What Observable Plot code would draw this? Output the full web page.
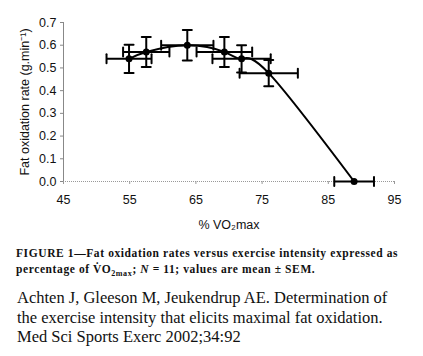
<!DOCTYPE html>
<html>
<head>
<meta charset="utf-8">
<script src="https://cdn.jsdelivr.net/npm/d3@7"></script>
<script src="https://cdn.jsdelivr.net/npm/@observablehq/plot@0.6"></script>
<style>
  html, body { margin: 0; padding: 0; background: #fff; }
  #wrap { width: 423px; height: 356px; overflow: hidden; position: relative; }
  .cap { font-family: "Liberation Serif", "Times New Roman", serif; font-weight: bold; font-size: 11.5px; letter-spacing: 0.6px; line-height: 15.5px; color: #111; margin: 6px 0 0 16px; white-space: nowrap; }
  .ref { font-family: "Liberation Serif", "Times New Roman", serif; font-size: 16.5px; line-height: 19.5px; color: #111; margin: 11px 0 0 17px; white-space: nowrap; }
  sub { font-size: 0.7em; line-height: 0; }
</style>
</head>
<body>
<div id="wrap"></div>
<script>
// Data: % VO2max (x) and fat oxidation rate g/min (y), mean ± SEM
const intensity = [54.9, 57.5, 63.7, 69.3, 71.9, 76.0, 88.9];
const intensitySEM = [3.4, 3.5, 3.95, 4.2, 4.4, 4.4, 3.0];
const fatOx = [0.54, 0.57, 0.60, 0.57, 0.54, 0.477, 0.0];
const fatOxSEM = [0.062, 0.066, 0.067, 0.066, 0.06, 0.058, 0.0];
const xTicks = [45, 55, 65, 75, 85, 95];
const yTicks = [0.0, 0.1, 0.2, 0.3, 0.4, 0.5, 0.6, 0.7];

const data = intensity.map((x, i) => ({x, ex: intensitySEM[i], y: fatOx[i], ey: fatOxSEM[i]}));
const withYErr = data.filter(d => d.ey > 0);

const capShape = {
  draw(context, l) { context.moveTo(0, 0); context.lineTo(0, -l); }
};

const chart = Plot.plot({
  width: 423,
  height: 240,
  marginLeft: 63,
  marginRight: 29,
  marginTop: 22,
  marginBottom: 59,
  style: {fontFamily: "'Liberation Sans', Arial, sans-serif", fontSize: "12.5px", color: "#111", background: "#fff"},
  x: {type: "linear", domain: [45, 95]},
  y: {type: "linear", domain: [0, 0.7]},
  marks: [
    Plot.axisX({ticks: xTicks, tickSize: 3, tickPadding: 11, stroke: "#999", fill: "#111", label: "% VO₂max", labelAnchor: "center", labelArrow: "none", labelOffset: 47}),
    Plot.axisY({ticks: yTicks, tickFormat: ".1f", tickSize: 3, tickPadding: 4, stroke: "#888", fill: "#111", label: "Fat oxidation rate (g.min⁻¹)", labelAnchor: "center", labelArrow: "none", labelOffset: 43}),
    Plot.ruleX([45], {y1: 0, y2: 0.7, stroke: "#888", strokeWidth: 1}),
    Plot.ruleY([0], {x1: 45, x2: 95, stroke: "#999", strokeWidth: 1, strokeDasharray: "1,1"}),
    Plot.line(data, {x: "x", y: "y", curve: "natural", stroke: "#000", strokeWidth: 2}),
    // horizontal error bars
    Plot.link(data, {x1: d => d.x - d.ex, x2: d => d.x + d.ex, y1: "y", y2: "y", stroke: "#000", strokeWidth: 2}),
    Plot.vector(data, {x: d => d.x - d.ex, y: "y", length: 9, rotate: 0, anchor: "middle", shape: capShape, stroke: "#000", strokeWidth: 2}),
    Plot.vector(data, {x: d => d.x + d.ex, y: "y", length: 9, rotate: 0, anchor: "middle", shape: capShape, stroke: "#000", strokeWidth: 2}),
    // vertical error bars
    Plot.link(withYErr, {x1: "x", x2: "x", y1: d => d.y - d.ey, y2: d => d.y + d.ey, stroke: "#000", strokeWidth: 2}),
    Plot.vector(withYErr, {x: "x", y: d => d.y - d.ey, length: 9, rotate: 90, anchor: "middle", shape: capShape, stroke: "#000", strokeWidth: 2}),
    Plot.vector(withYErr, {x: "x", y: d => d.y + d.ey, length: 9, rotate: 90, anchor: "middle", shape: capShape, stroke: "#000", strokeWidth: 2}),
    Plot.dot(data, {x: "x", y: "y", r: 3.5, fill: "#000", stroke: "none"})
  ]
});

const wrap = document.getElementById("wrap");
wrap.appendChild(chart);
const cap = document.createElement("div");
cap.className = "cap";
cap.innerHTML = "FIGURE 1—Fat oxidation rates versus exercise intensity expressed as<br>percentage of V̇O<sub>2max</sub>; <i>N</i> = 11; values are mean ± SEM.";
wrap.appendChild(cap);
const ref = document.createElement("div");
ref.className = "ref";
ref.innerHTML = "Achten J, Gleeson M, Jeukendrup AE. Determination of<br>the exercise intensity that elicits maximal fat oxidation.<br>Med Sci Sports Exerc 2002;34:92";
wrap.appendChild(ref);
</script>
</body>
</html>
